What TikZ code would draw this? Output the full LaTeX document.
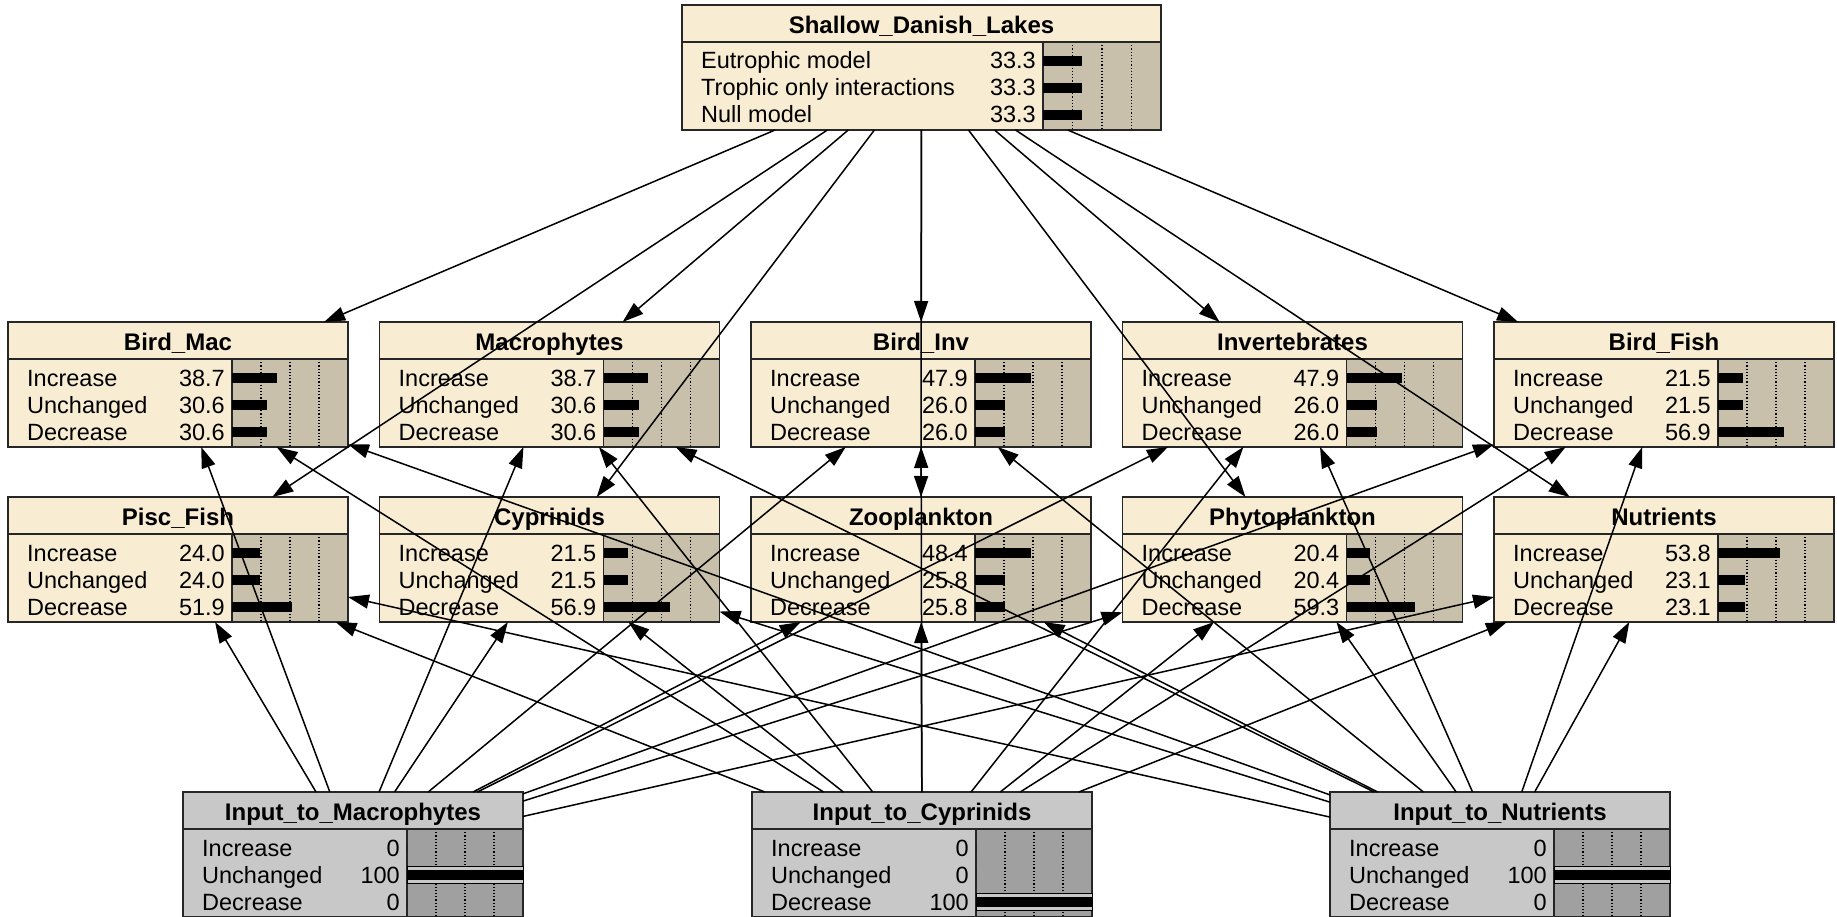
\documentclass[tikz,border=0pt]{standalone}
\usepackage{fontspec}
\setmainfont{Liberation Sans}
\usetikzlibrary{arrows.meta}
\definecolor{bnbody}{HTML}{F8EDD2}
\definecolor{bnbar}{HTML}{C8C0AA}
\definecolor{inbody}{HTML}{C8C8C8}
\definecolor{inbar}{HTML}{A0A0A0}

\newcommand{\bnbox}[7]{%
 \pgfmathsetmacro{\bL}{#2}%
 \pgfmathsetmacro{\bT}{#3}%
 \pgfmathsetmacro{\bW}{#5}%
 \pgfmathsetmacro{\bR}{#2+#4}%
 \pgfmathsetmacro{\bB}{#3+125}%
 \pgfmathsetmacro{\bD}{#3+37}%
 \pgfmathsetmacro{\bBar}{#2+#4-#5}%
 \pgfmathsetmacro{\bC}{#2+#4/2}%
 \fill[#7body] (\bL,\bT) rectangle (\bR,\bB);
 \fill[#7bar] (\bBar,\bD) rectangle (\bR,\bB);
 \foreach \q in {1,2,3}{\draw[dotted,line width=1.2pt] ({\bBar+\q*\bW/4},\bD) -- ({\bBar+\q*\bW/4},\bB);}
 \draw[line width=1.6pt, black!85] (\bL,\bD) -- (\bR,\bD) (\bBar,\bD) -- (\bBar,\bB);
 \node[bnframe, minimum width=#4pt, minimum height=125pt] (#1) at (\bC,{#3+62.5}) {};
 \node[ttl] at (\bC,{#3+28.5}) {#6};
}
\newcommand{\bnrow}[4]{%
 \pgfmathsetmacro{\rY}{\bD+19+27*(#1-1)}%
 \node[lab] at ({\bL+19},{\rY+8}) {#2};
 \node[val] at ({\bBar-7},{\rY+8}) {#3};
 \fill[black] (\bBar,{\rY-5}) rectangle ({\bBar+#4*\bW/100},{\rY+5});
}
\newcommand{\inband}[1]{%
 \pgfmathsetmacro{\rY}{\bD+19+27*(#1-1)}%
 \filldraw[fill=inbody, draw=black, line width=1pt] (\bBar,{\rY-8.5}) rectangle (\bR,{\rY+8.5});
 \fill[black] (\bBar,{\rY-5}) rectangle (\bR,{\rY+5});
}

\begin{document}
\begin{tikzpicture}[x=1pt,y=-1pt,
 bnframe/.style={draw=black!85, line width=1.6pt, inner sep=0pt, outer sep=0pt, rectangle},
 lab/.style={inner sep=0pt, anchor=base west, font=\fontsize{23.5}{27}\selectfont},
 val/.style={inner sep=0pt, anchor=base east, font=\fontsize{23.5}{27}\selectfont},
 ttl/.style={inner sep=0pt, anchor=base, font=\fontsize{24}{28}\selectfont\bfseries},
 edge/.style={line width=1.5pt, black, -{Triangle[length=21pt,width=14pt]}}]
\useasboundingbox (0,0) rectangle (1837,917);
\fill[white] (0,0) rectangle (1837,917);

% top node
\bnbox{sdl}{682}{5}{479}{118}{Shallow\_Danish\_Lakes}{bn}
\bnrow{1}{Eutrophic model}{33.3}{33.3}
\bnrow{2}{Trophic only interactions}{33.3}{33.3}
\bnrow{3}{Null model}{33.3}{33.3}

% row 1
\bnbox{bm}{8}{322}{340}{116}{Bird\_Mac}{bn}
\bnrow{1}{Increase}{38.7}{38.7}\bnrow{2}{Unchanged}{30.6}{30.6}\bnrow{3}{Decrease}{30.6}{30.6}
\bnbox{mac}{379.5}{322}{340}{116}{Macrophytes}{bn}
\bnrow{1}{Increase}{38.7}{38.7}\bnrow{2}{Unchanged}{30.6}{30.6}\bnrow{3}{Decrease}{30.6}{30.6}
\bnbox{binv}{751}{322}{340}{116}{Bird\_Inv}{bn}
\bnrow{1}{Increase}{47.9}{47.9}\bnrow{2}{Unchanged}{26.0}{26.0}\bnrow{3}{Decrease}{26.0}{26.0}
\bnbox{inv}{1122.5}{322}{340}{116}{Invertebrates}{bn}
\bnrow{1}{Increase}{47.9}{47.9}\bnrow{2}{Unchanged}{26.0}{26.0}\bnrow{3}{Decrease}{26.0}{26.0}
\bnbox{bf}{1494}{322}{340}{116}{Bird\_Fish}{bn}
\bnrow{1}{Increase}{21.5}{21.5}\bnrow{2}{Unchanged}{21.5}{21.5}\bnrow{3}{Decrease}{56.9}{56.9}

% row 2
\bnbox{pf}{8}{497}{340}{116}{Pisc\_Fish}{bn}
\bnrow{1}{Increase}{24.0}{24.0}\bnrow{2}{Unchanged}{24.0}{24.0}\bnrow{3}{Decrease}{51.9}{51.9}
\bnbox{cyp}{379.5}{497}{340}{116}{Cyprinids}{bn}
\bnrow{1}{Increase}{21.5}{21.5}\bnrow{2}{Unchanged}{21.5}{21.5}\bnrow{3}{Decrease}{56.9}{56.9}
\bnbox{zoo}{751}{497}{340}{116}{Zooplankton}{bn}
\bnrow{1}{Increase}{48.4}{48.4}\bnrow{2}{Unchanged}{25.8}{25.8}\bnrow{3}{Decrease}{25.8}{25.8}
\bnbox{phy}{1122.5}{497}{340}{116}{Phytoplankton}{bn}
\bnrow{1}{Increase}{20.4}{20.4}\bnrow{2}{Unchanged}{20.4}{20.4}\bnrow{3}{Decrease}{59.3}{59.3}
\bnbox{nut}{1494}{497}{340}{116}{Nutrients}{bn}
\bnrow{1}{Increase}{53.8}{53.8}\bnrow{2}{Unchanged}{23.1}{23.1}\bnrow{3}{Decrease}{23.1}{23.1}

% inputs
\bnbox{itm}{183}{792}{340}{116}{Input\_to\_Macrophytes}{in}
\bnrow{1}{Increase}{0}{0}\bnrow{2}{Unchanged}{100}{0}\bnrow{3}{Decrease}{0}{0}\inband{2}
\bnbox{itc}{752}{792}{340}{116}{Input\_to\_Cyprinids}{in}
\bnrow{1}{Increase}{0}{0}\bnrow{2}{Unchanged}{0}{0}\bnrow{3}{Decrease}{100}{0}\inband{3}
\bnbox{itn}{1330}{792}{340}{116}{Input\_to\_Nutrients}{in}
\bnrow{1}{Increase}{0}{0}\bnrow{2}{Unchanged}{100}{0}\bnrow{3}{Decrease}{0}{0}\inband{2}

% edges
\foreach \t in {bm,mac,binv,inv,bf,pf,cyp,zoo,phy,nut}{
  \draw[edge] (sdl) -- (\t);
  \draw[edge] (itm) -- (\t);
  \draw[edge] (itc) -- (\t);
  \draw[edge] (itn) -- (\t);
}
\end{tikzpicture}
\end{document}
